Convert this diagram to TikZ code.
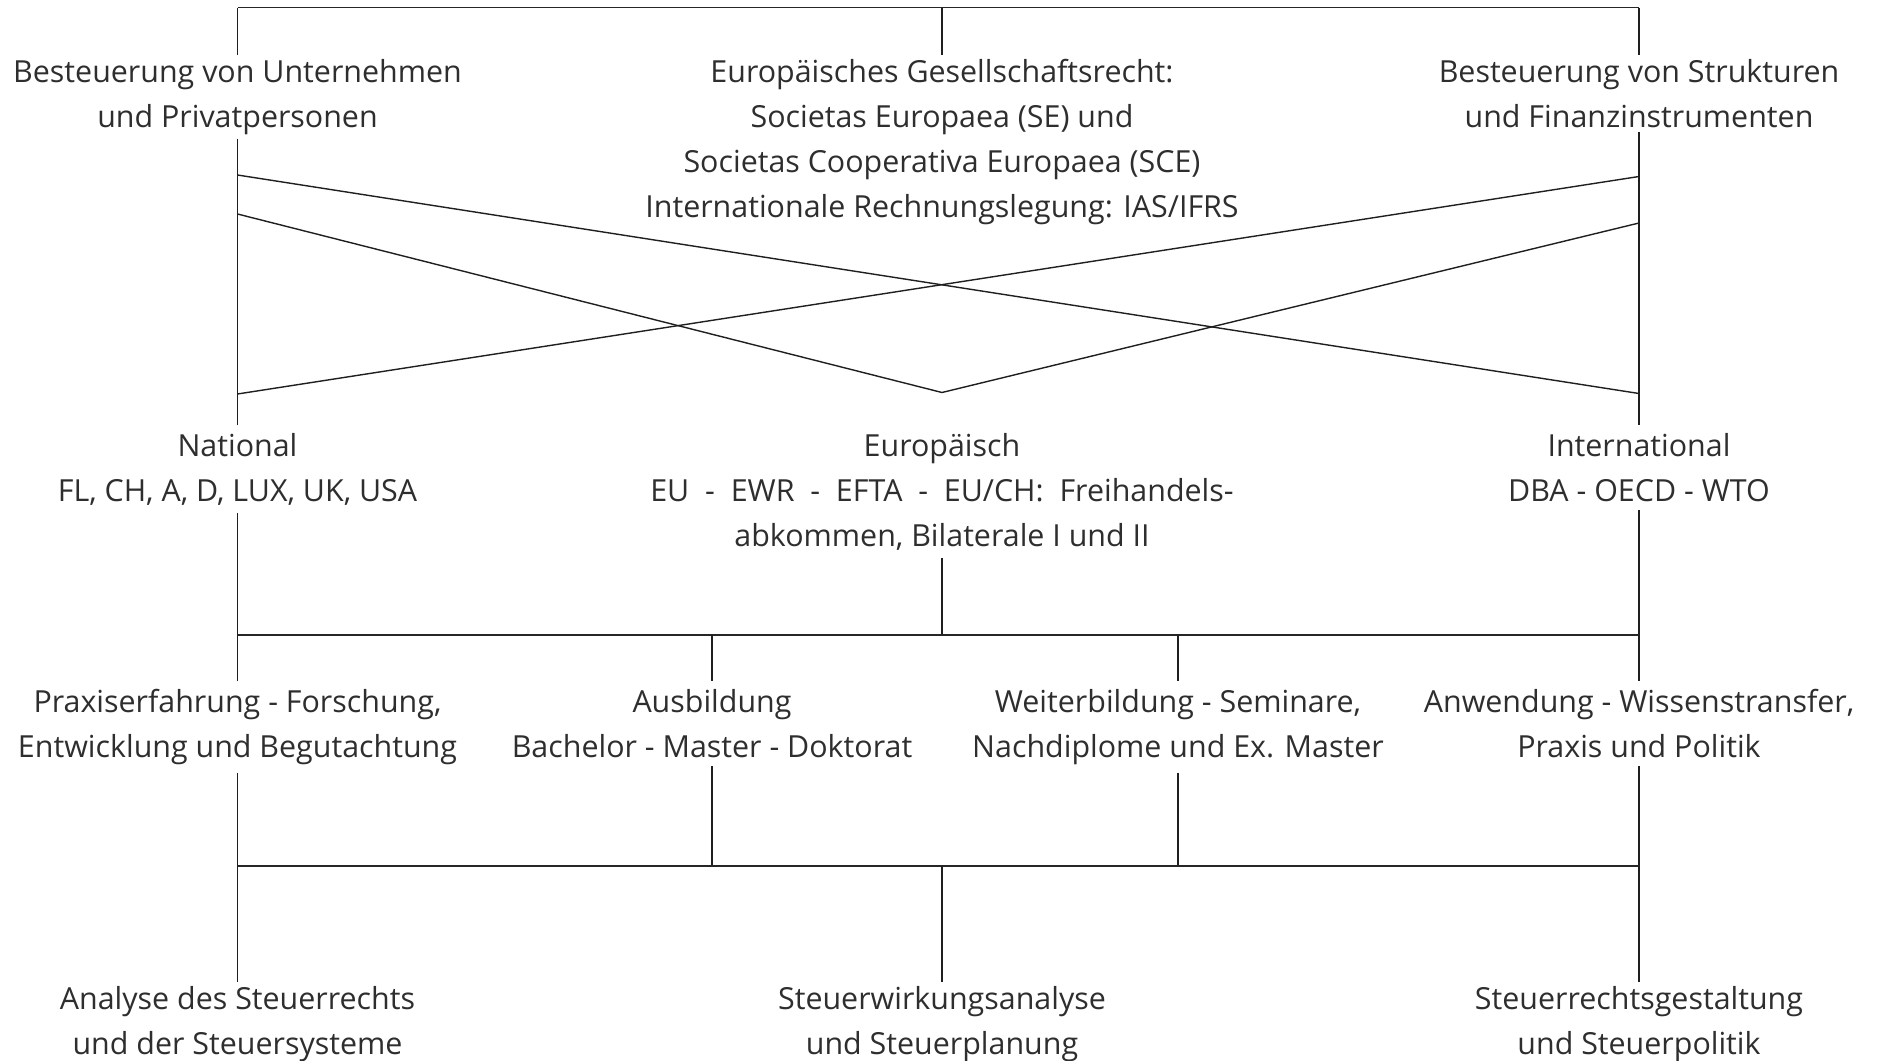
\documentclass[tikz,border=0pt]{standalone}
\usepackage{fontspec}
\setmainfont{Open Sans}
\begin{document}
\begin{tikzpicture}[x=1pt,y=-1pt,
  lbl/.style={align=center, font=\fontsize{30.4}{45}\selectfont, text=black!82, inner xsep=0pt, inner ysep=4pt, anchor=north},
  lblw/.style={lbl, inner ysep=8pt},
  ln/.style={line width=1.4pt, draw=black!88},
  bar/.style={line width=1.8pt, draw=black!85}]
\useasboundingbox (0,0) rectangle (1879,1060);
% row 1
\node[lbl] (t1) at (237.5,55) {Besteuerung von Unternehmen\\und Privatpersonen};
\node[lbl] (t2) at (942,55) {Europäisches Gesellschaftsrecht:\\Societas Europaea (SE) und\\Societas Cooperativa Europaea (SCE)\\Internationale Rechnungslegung: IAS/IFRS};
\node[lbl] (t3) at (1639,55) {Besteuerung von Strukturen\\und Finanzinstrumenten};
% row 2
\node[lblw] (n1) at (237.5,425) {National\\FL, CH, A, D, LUX, UK, USA};
\node[lblw] (n2) at (942,425) {Europäisch\\EU~~-~~EWR~~-~~EFTA~~-~~EU/CH:~~Freihandels-\\abkommen, Bilaterale I und II};
\node[lblw] (n3) at (1639,425) {International\\DBA - OECD - WTO};
% row 3
\node[lblw] (r1) at (237.5,681) {Praxiserfahrung - Forschung,\\Entwicklung und Begutachtung};
\node[lblw] (r2) at (712,681) {Ausbildung\\Bachelor - Master - Doktorat};
\node[lblw] (r3) at (1178,681) {Weiterbildung - Seminare,\\Nachdiplome und Ex. Master};
\node[lblw] (r4) at (1639,681) {Anwendung - Wissenstransfer,\\Praxis und Politik};
% row 4
\node[lbl] (b1) at (237.5,982) {Analyse des Steuerrechts\\und der Steuersysteme};
\node[lbl] (b2) at (942,982) {Steuerwirkungsanalyse\\und Steuerplanung};
\node[lbl] (b3) at (1639,982) {Steuerrechtsgestaltung\\und Steuerpolitik};
% junction coordinates
\coordinate (topL) at (237.5,7.5);
\coordinate (topC) at (942,7.5);
\coordinate (topR) at (1639,7.5);
\coordinate (sL1) at (237.5,175);
\coordinate (sL2) at (237.5,214);
\coordinate (sL3) at (237.5,394);
\coordinate (sR1) at (1639,176.5);
\coordinate (sR2) at (1639,223);
\coordinate (sR3) at (1639,393.5);
\coordinate (apex) at (942,392.5);
\coordinate (m1L) at (237.5,635);
\coordinate (m1a) at (712,635);
\coordinate (m1C) at (942,635);
\coordinate (m1b) at (1178,635);
\coordinate (m1R) at (1639,635);
\coordinate (m2L) at (237.5,866);
\coordinate (m2a) at (712,866);
\coordinate (m2C) at (942,866);
\coordinate (m2b) at (1178,866);
\coordinate (m2R) at (1639,866);
% top bracket
\draw[bar] (topL) -- (topR);
\draw[ln] (topL) -- (t1.north);
\draw[ln] (topC) -- (t2.north);
\draw[ln] (topR) -- (t3.north);
% side verticals
\draw[ln] (t1.south) -- (n1.north);
\draw[ln] (t3.south) -- (n3.north);
% crossing lines
\draw[ln] (sL1) -- (sR3);
\draw[ln] (sL2) -- (apex) -- (sR2);
\draw[ln] (sL3) -- (sR1);
% first bar
\draw[ln] (n1.south) -- (m1L);
\draw[ln] (n2.south) -- (m1C);
\draw[ln] (n3.south) -- (m1R);
\draw[bar] (m1L) -- (m1R);
\draw[ln] (m1L) -- (r1.north);
\draw[ln] (m1a) -- (r2.north);
\draw[ln] (m1b) -- (r3.north);
\draw[ln] (m1R) -- (r4.north);
% second bar
\draw[ln] (r1.south) -- (m2L);
\draw[ln] (r2.south) -- (m2a);
\draw[ln] (r3.south) -- (m2b);
\draw[ln] (r4.south) -- (m2R);
\draw[bar] (m2L) -- (m2R);
\draw[ln] (m2L) -- (b1.north);
\draw[ln] (m2C) -- (b2.north);
\draw[ln] (m2R) -- (b3.north);
\end{tikzpicture}
\end{document}
